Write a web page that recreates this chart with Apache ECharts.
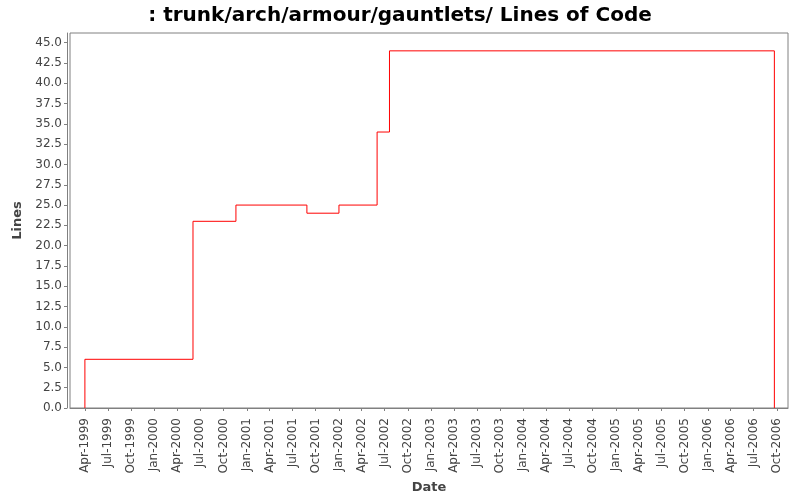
<!DOCTYPE html>
<html>
<head>
<meta charset="utf-8">
<script src="https://cdn.jsdelivr.net/npm/echarts@6/dist/echarts.min.js"></script>
<style>
    html, body { margin: 0; padding: 0; background: #fff; }
    #chartArea { width: 800px; height: 500px; }
</style>
</head>
<body>
<div id="chartArea"></div>
<script>
// step points (date, lines of code)
var dates = ['1999-04-01', '1999-04-01', '2000-06-02', '2000-11-19', '2001-08-27',
             '2002-01-01', '2002-06-01', '2002-07-20', '2006-09-21'];
var lines = [0, 6, 23, 25, 24, 25, 34, 44, 0];

var xTickLabels = ['Apr-1999', 'Jul-1999', 'Oct-1999', 'Jan-2000', 'Apr-2000', 'Jul-2000',
                   'Oct-2000', 'Jan-2001', 'Apr-2001', 'Jul-2001', 'Oct-2001', 'Jan-2002',
                   'Apr-2002', 'Jul-2002', 'Oct-2002', 'Jan-2003', 'Apr-2003', 'Jul-2003',
                   'Oct-2003', 'Jan-2004', 'Apr-2004', 'Jul-2004', 'Oct-2004', 'Jan-2005',
                   'Apr-2005', 'Jul-2005', 'Oct-2005', 'Jan-2006', 'Apr-2006', 'Jul-2006',
                   'Oct-2006'];
var yTickLabels = ['0.0', '2.5', '5.0', '7.5', '10.0', '12.5', '15.0', '17.5', '20.0',
                   '22.5', '25.0', '27.5', '30.0', '32.5', '35.0', '37.5', '40.0',
                   '42.5', '45.0'];

var months = {Jan: 0, Feb: 1, Mar: 2, Apr: 3, May: 4, Jun: 5, Jul: 6, Aug: 7, Sep: 8, Oct: 9, Nov: 10, Dec: 11};
var monthNames = ['Jan', 'Feb', 'Mar', 'Apr', 'May', 'Jun', 'Jul', 'Aug', 'Sep', 'Oct', 'Nov', 'Dec'];

function parseDay(s) {
    var p = s.split('-');
    return Date.UTC(+p[0], +p[1] - 1, +p[2]);
}

var xTicks = xTickLabels.map(function (s) {
    var p = s.split('-');
    return Date.UTC(+p[1], months[p[0]], 1);
});
var yTicks = yTickLabels.map(function (s) { return parseFloat(s); });

var seriesData = dates.map(function (d, i) { return [parseDay(d), lines[i]]; });

var font = 'DejaVu Sans';
var option = {
    animation: false,
    backgroundColor: '#fff',
    title: {
        text: ': trunk/arch/armour/gauntlets/ Lines of Code',
        left: 'center',
        top: 1,
        textStyle: {fontFamily: font, fontSize: 20, fontWeight: 'bold', color: '#000'}
    },
    grid: {
        left: 70, right: 12, top: 33, bottom: 92,
        show: true, borderColor: '#808080', borderWidth: 1
    },
    xAxis: {
        type: 'value',
        min: parseDay('1999-02-01'),
        max: parseDay('2006-11-14'),
        offset: 4,
        name: 'Date',
        nameLocation: 'middle',
        nameGap: 66,
        nameTextStyle: {fontFamily: font, fontSize: 13, fontWeight: 'bold', color: '#444'},
        splitLine: {show: false},
        axisLine: {show: true, lineStyle: {color: '#808080'}},
        axisTick: {show: true, length: 3, customValues: xTicks, lineStyle: {color: '#808080'}},
        axisLabel: {
            customValues: xTicks,
            rotate: 90,
            margin: 6,
            fontFamily: font, fontSize: 12, color: '#444',
            formatter: function (v) {
                var d = new Date(v);
                return monthNames[d.getUTCMonth()] + '-' + d.getUTCFullYear();
            }
        }
    },
    yAxis: {
        type: 'value',
        min: 0,
        max: 46.2,
        offset: 3,
        name: 'Lines',
        nameLocation: 'middle',
        nameGap: 41,
        nameTextStyle: {fontFamily: font, fontSize: 13, fontWeight: 'bold', color: '#444'},
        splitLine: {show: false},
        axisLine: {show: true, lineStyle: {color: '#808080'}},
        axisTick: {show: true, length: 3, customValues: yTicks, lineStyle: {color: '#808080'}},
        axisLabel: {
            customValues: yTicks,
            margin: 5,
            fontFamily: font, fontSize: 12, color: '#444',
            formatter: function (v) { return v.toFixed(1); }
        }
    },
    series: [{
        type: 'line',
        step: 'end',
        showSymbol: false,
        data: seriesData,
        lineStyle: {color: '#ff0000', width: 1},
        itemStyle: {color: '#ff0000'}
    }]
};

var myChart = echarts.init(document.getElementById('chartArea'));
myChart.setOption(option);
</script>
</body>
</html>
